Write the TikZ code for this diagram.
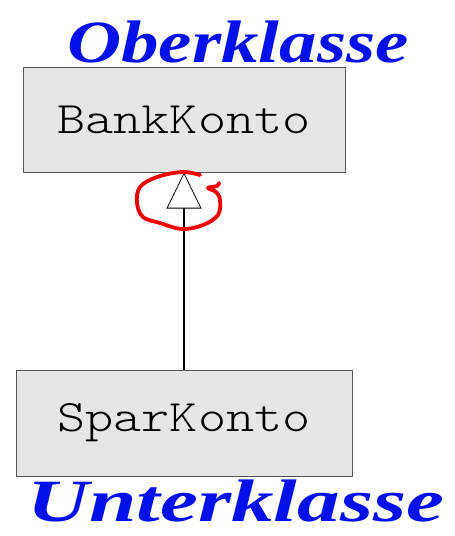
\documentclass[tikz,border=0pt]{standalone}
\usepackage{fontspec}
\newfontfamily\handfont{Liberation Serif}
\usetikzlibrary{arrows.meta}
\definecolor{boxfill}{HTML}{E6E6E6}
\definecolor{boxline}{HTML}{555555}
\definecolor{inkblue}{HTML}{0010E8}
\definecolor{inkred}{HTML}{F00000}
\newcommand{\monolabel}[1]{\scalebox{1.19}[1]{#1}}
\tikzset{
  classbox/.style={draw=boxline, line width=1pt, fill=boxfill, inner sep=0pt,
    font=\ttfamily\fontseries{l}\fontsize{45}{50}\selectfont},
  inherit/.style={line width=1.5pt, -{Triangle[open, width=35pt, length=36pt, line width=0.8pt]}},
  hand/.style={text=inkblue, inner sep=0pt, anchor=base, font=\handfont\bfseries\itshape\fontsize{60}{64}\selectfont},
  redmark/.style={draw=inkred, line width=3.8pt, line cap=round, line join=round}
}
\begin{document}
\begin{tikzpicture}[x=1pt,y=-1pt]
\useasboundingbox (0,0) rectangle (455,536);
\node[classbox, minimum width=322pt, minimum height=105pt] (bank) at (184,119.5) {\monolabel{BankKonto}};
\node[classbox, minimum width=336pt, minimum height=106pt] (spar) at (184,423) {\monolabel{SparKonto}};
\draw[inherit] (spar.north) -- (bank.south);
\node[hand, xscale=1.25] (ober) at (238,62) {Oberklasse};
\node[hand, xscale=1.42] (unter) at (236,521) {Unterklasse};
\draw[redmark] plot[smooth, tension=0.6] coordinates {
  (200,175) (182,172) (157,177) (140,187) (137,203) (143,217) (160,223)
  (182,229) (203,225) (218,215) (220,200) (216,192) (208,188) (217,186) (219,183)};
\end{tikzpicture}
\end{document}
